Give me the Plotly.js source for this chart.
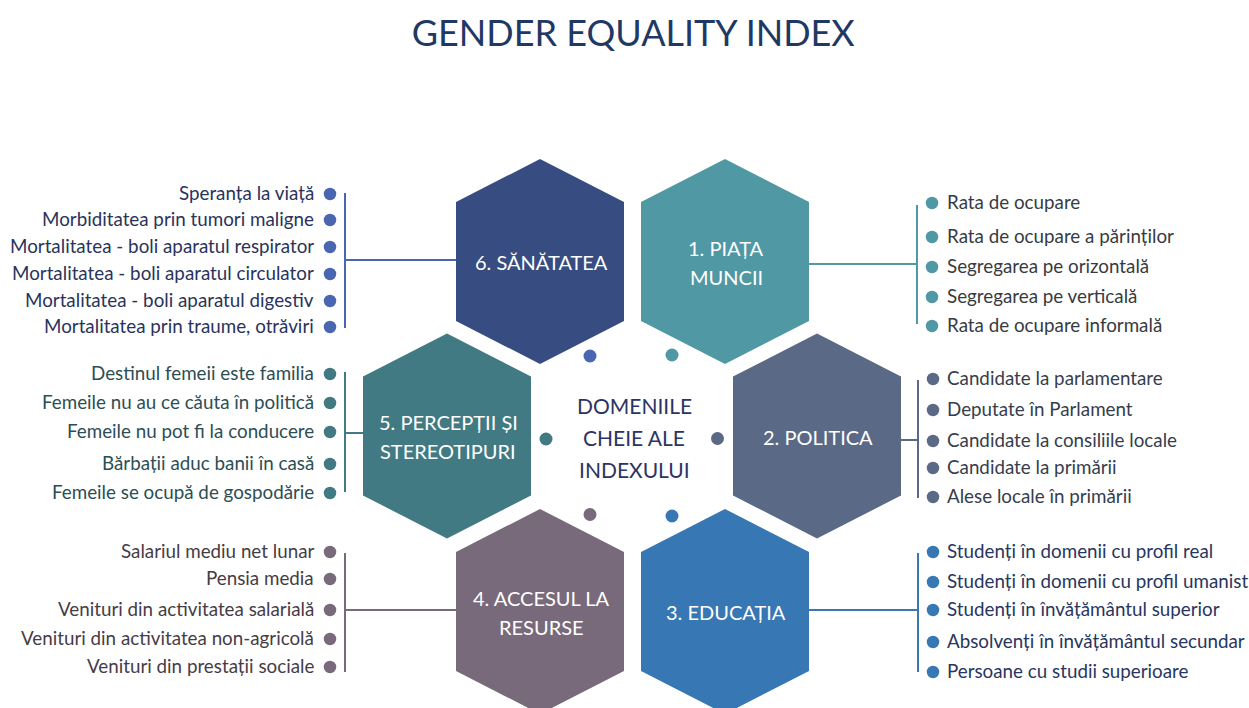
<!DOCTYPE html>
<html>
<head>
<meta charset="utf-8">
<script src="https://cdn.plot.ly/plotly-3.0.1.min.js"></script>
<style>html,body{margin:0;padding:0;background:#fff;}#chart{width:1249px;height:708px;}</style>
</head>
<body>
<div id="chart"></div>
<script>
// ---------- DATA ----------
const chartTitle = "GENDER EQUALITY INDEX";
const centerLabel = ["DOMENIILE", "CHEIE ALE", "INDEXULUI"];
const domainLabels = [
  ["1. PIAȚA", "MUNCII"],
  ["2. POLITICA"],
  ["3. EDUCAȚIA"],
  ["4. ACCESUL LA", "RESURSE"],
  ["5. PERCEPȚII ȘI", "STEREOTIPURI"],
  ["6. SĂNĂTATEA"]
];
const indicators1 = ["Rata de ocupare", "Rata de ocupare a părinților", "Segregarea pe orizontală", "Segregarea pe verticală", "Rata de ocupare informală"];
const indicators2 = ["Candidate la parlamentare", "Deputate în Parlament", "Candidate la consiliile locale", "Candidate la primării", "Alese locale în primării"];
const indicators3 = ["Studenți în domenii cu profil real", "Studenți în domenii cu profil umanist", "Studenți în învățământul superior", "Absolvenți în învățământul secundar", "Persoane cu studii superioare"];
const indicators4 = ["Salariul mediu net lunar", "Pensia media", "Venituri din activitatea salarială", "Venituri din activitatea non-agricolă", "Venituri din prestații sociale"];
const indicators5 = ["Destinul femeii este familia", "Femeile nu au ce căuta în politică", "Femeile nu pot fi la conducere", "Bărbații aduc banii în casă", "Femeile se ocupă de gospodărie"];
const indicators6 = ["Speranța la viață", "Morbiditatea prin tumori maligne", "Mortalitatea - boli aparatul respirator", "Mortalitatea - boli aparatul circulator", "Mortalitatea - boli aparatul digestiv", "Mortalitatea prin traume, otrăviri"];
const indicatorLists = [indicators1, indicators2, indicators3, indicators4, indicators5, indicators6];

// ---------- LAYOUT / STYLE (positions in canvas px, drawn through the axes) ----------
const FONT = "Lato, 'Open Sans', sans-serif";
const groups = [
  {hex:[725,261.5], side:"right", bx:917, by:[205,324], cy:264, dx:932, tx:945, iy:[203,237,267,297,326],
   fill:"#5098a3", dot:"#5098a3", text:"#363b42", mid:[672,355]},
  {hex:[817,436], side:"right", bx:918, by:[380,498], cy:440, dx:933, tx:945, iy:[379,410,441,468,497],
   fill:"#5a6a86", dot:"#5a6a86", text:"#363d4c", mid:[717.5,438.5]},
  {hex:[725,611.5], side:"right", bx:918, by:[553,672], cy:610, dx:933, tx:945, iy:[552,582,610,642,672],
   fill:"#3777b3", dot:"#3777b3", text:"#283660", mid:[672,516]},
  {hex:[540,611.5], side:"left", bx:345, by:[553,672], cy:610, dx:330, tx:316, iy:[552,579,610,639,667],
   fill:"#786a7a", dot:"#786a7a", text:"#463c46", mid:[590,514.5]},
  {hex:[447,436], side:"left", bx:345, by:[372,492], cy:433, dx:330, tx:316, iy:[374,403,432,464,493],
   fill:"#427a84", dot:"#427a84", text:"#2c4e54", mid:[546,439]},
  {hex:[540,261.5], side:"left", bx:345, by:[193,328], cy:260, dx:330, tx:316, iy:[194,220,247,274,301,327],
   fill:"#374c80", dot:"#4a66b1", text:"#29335c", mid:[590,356]}
];
const HEX_W = 84, HEX_TIP = 102.5, HEX_SHOULDER = 59.5;
const TEXT_NUDGE = -1.5;

const traces = [];
const annotations = [];

groups.forEach((g, i) => {
  const [cx, cy] = g.hex;
  const w = HEX_W;
  traces.push({
    type: "scatter", mode: "lines",
    x: [cx, cx + w, cx + w, cx, cx - w, cx - w, cx],
    y: [cy - HEX_TIP, cy - HEX_SHOULDER, cy + HEX_SHOULDER, cy + HEX_TIP, cy + HEX_SHOULDER, cy - HEX_SHOULDER, cy - HEX_TIP],
    fill: "toself", fillcolor: g.fill, line: {width: 0, color: g.fill}, hoverinfo: "skip"
  });
  const edge = g.side === "right" ? cx + w : cx - w;
  traces.push({
    type: "scatter", mode: "lines",
    x: [edge, g.bx, null, g.bx, g.bx],
    y: [g.cy, g.cy, null, g.by[0], g.by[1]],
    line: {color: g.dot, width: 2}, hoverinfo: "skip"
  });
  const items = indicatorLists[i];
  traces.push({
    type: "scatter", mode: "markers",
    x: items.map(() => g.dx), y: g.iy.slice(0, items.length),
    marker: {size: 12.5, color: g.dot}, hoverinfo: "skip"
  });
  traces.push({
    type: "scatter", mode: "markers",
    x: [g.mid[0]], y: [g.mid[1]],
    marker: {size: 13, color: g.dot}, hoverinfo: "skip"
  });
  items.forEach((t, k) => {
    annotations.push({
      x: g.tx, y: g.iy[k] + TEXT_NUDGE, xref: "x", yref: "y", text: t, showarrow: false,
      xanchor: g.side === "right" ? "left" : "right", yanchor: "middle",
      font: {family: FONT, size: 18.8, color: g.text}
    });
  });
  const lines = domainLabels[i];
  const lh = 29;
  lines.forEach((t, k) => {
    annotations.push({
      x: cx + 1, y: cy + 0.5 + (k - (lines.length - 1) / 2) * lh, xref: "x", yref: "y",
      text: t, showarrow: false, xanchor: "center", yanchor: "middle",
      font: {family: FONT, size: 20, color: "#ffffff"}
    });
  });
});

centerLabel.forEach((t, k) => {
  annotations.push({
    x: 634, y: 405 + k * 32, xref: "x", yref: "y", text: t, showarrow: false,
    xanchor: "center", yanchor: "middle",
    font: {family: FONT, size: 21, color: "#2b3463"}
  });
});

const layout = {
  width: 1249, height: 708,
  margin: {l: 0, r: 0, t: 0, b: 0},
  paper_bgcolor: "#ffffff", plot_bgcolor: "#ffffff",
  showlegend: false,
  title: {text: chartTitle, x: 0.507, xanchor: "center", y: 0.953, yanchor: "middle",
          font: {family: FONT, size: 36, color: "#1f3864"}},
  xaxis: {range: [0, 1249], visible: false, fixedrange: true},
  yaxis: {range: [708, 0], visible: false, fixedrange: true},
  annotations: annotations,
  hovermode: false
};

Plotly.newPlot("chart", traces, layout, {displayModeBar: false, staticPlot: true});
</script>
</body>
</html>
